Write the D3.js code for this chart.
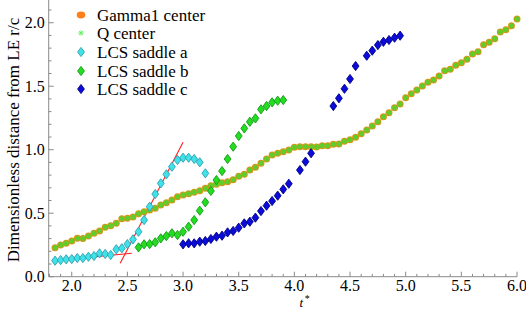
<!DOCTYPE html>
<meta charset="utf-8">
<style>
  body { margin: 0; background: #fff; }
  text { font-family: "Liberation Serif", "DejaVu Serif", serif; }
</style>
<svg width="526" height="310"></svg>
<script src="https://d3js.org/d3.v7.min.js"></script>
<script>
// Gamma1 center (orange) and Q center (green asterisk), t = 1.85 .. 6.00 step 0.05
var gammaT = [1.85,1.90,1.95,2.00,2.05,2.10,2.15,2.20,2.25,2.30,2.35,2.40,2.45,2.50,2.55,2.60,2.65,2.70,2.75,2.80,
  2.85,2.90,2.95,3.00,3.05,3.10,3.15,3.20,3.25,3.30,3.35,3.40,3.45,3.50,3.55,3.60,3.65,3.70,3.75,3.80,
  3.85,3.90,3.95,4.00,4.05,4.10,4.15,4.20,4.25,4.30,4.35,4.40,4.45,4.50,4.55,4.60,4.65,4.70,4.75,4.80,
  4.85,4.90,4.95,5.00,5.05,5.10,5.15,5.20,5.25,5.30,5.35,5.40,5.45,5.50,5.55,5.60,5.65,5.70,5.75,5.80,
  5.85,5.90,5.95,6.00];
var gammaV = [0.228,0.250,0.263,0.281,0.302,0.301,0.320,0.342,0.360,0.389,0.402,0.420,0.457,0.460,0.470,0.496,0.512,0.525,0.539,0.565,
  0.583,0.604,0.630,0.643,0.654,0.665,0.677,0.696,0.717,0.728,0.740,0.748,0.764,0.791,0.806,0.840,0.861,0.893,0.927,0.958,
  0.972,0.984,0.998,1.019,1.024,1.024,1.024,1.021,1.031,1.031,1.043,1.045,1.066,1.079,1.098,1.126,1.155,1.187,1.220,1.260,
  1.291,1.331,1.360,1.409,1.441,1.470,1.502,1.531,1.549,1.580,1.622,1.633,1.665,1.685,1.712,1.754,1.772,1.827,1.846,1.874,
  1.927,1.945,1.976,2.029];
var qT = gammaT;
var qV = [0.228,0.250,0.263,0.281,0.302,0.301,0.320,0.342,0.360,0.389,0.402,0.420,0.457,0.460,0.470,0.496,0.512,0.525,0.539,0.565,
  0.583,0.604,0.630,0.643,0.654,0.665,0.677,0.696,0.717,0.728,0.740,0.748,0.764,0.791,0.806,0.840,0.861,0.893,0.927,0.958,
  0.972,0.984,0.998,1.019,1.024,1.024,1.024,1.021,1.031,1.031,1.043,1.045,1.066,1.079,1.098,1.126,1.155,1.187,1.220,1.260,
  1.291,1.331,1.360,1.409,1.441,1.470,1.502,1.531,1.549,1.580,1.622,1.633,1.665,1.685,1.712,1.754,1.772,1.827,1.846,1.874,
  1.927,1.945,1.976,2.029];

var saddleAT = [1.85,1.90,1.95,2.00,2.05,2.10,2.15,2.20,2.25,2.30,2.35,2.40,2.45,2.50,2.55,2.60,2.65,2.70,2.75,2.80,
  2.85,2.90,2.95,3.00,3.05,3.10,3.15,3.20];
var saddleAV = [0.126,0.131,0.137,0.139,0.147,0.147,0.157,0.163,0.184,0.179,0.171,0.216,0.224,0.257,0.294,0.354,0.446,0.551,0.651,0.735,
  0.806,0.866,0.919,0.937,0.937,0.927,0.901,0.814];

var saddleBT = [2.60,2.65,2.70,2.75,2.80,2.85,2.90,2.95,3.00,3.05,3.10,3.15,3.20,3.25,3.30,3.35,3.40,3.45,3.50,3.55,
  3.60,3.65,3.70,3.75,3.80,3.85,3.90];
var saddleBV = [0.231,0.255,0.257,0.271,0.302,0.320,0.342,0.328,0.354,0.394,0.446,0.520,0.586,0.675,0.761,0.832,0.927,1.024,1.108,1.168,
  1.220,1.247,1.318,1.344,1.373,1.386,1.391];

var saddleCT = [3.00,3.05,3.10,3.15,3.20,3.25,3.30,3.35,3.40,3.45,3.50,3.55,3.60,3.65,3.70,3.75,3.80,3.85,3.90,3.95,
  4.05,4.10,4.15,4.35,4.40,4.45,4.50,4.55,4.65,4.70,4.75,4.80,4.85,4.90,4.95];
var saddleCV = [0.255,0.263,0.263,0.276,0.281,0.297,0.315,0.323,0.349,0.360,0.386,0.420,0.433,0.465,0.517,0.559,0.596,0.638,0.688,0.732,
  0.840,0.906,0.972,1.344,1.405,1.480,1.557,1.659,1.740,1.780,1.824,1.850,1.864,1.882,1.898];

// red fit lines: [t0, v0, t1, v1]
var fitLines = [[1.84, 0.126, 2.54, 0.185], [2.435, 0.105, 3.0, 1.058]];

var xTicks = [2.0, 2.5, 3.0, 3.5, 4.0, 4.5, 5.0, 5.5, 6.0];
var yTicks = [0.0, 0.5, 1.0, 1.5, 2.0];
var legendNames = ["Gamma1 center", "Q center", "LCS saddle a", "LCS saddle b", "LCS saddle c"];

var svg = d3.select("svg");
var x = d3.scaleLinear().domain([1.793, 6.0]).range([48.7, 517]);
var y = d3.scaleLinear().domain([0, 2.179]).range([276.7, 0]);

var axisColor = "#8a8a8a";

// x axis
var gx = svg.append("g").attr("transform", "translate(0," + y(0) + ")");
gx.append("line").attr("x1", x.range()[0]).attr("x2", x.range()[1]).attr("stroke", axisColor);
var xMinor = d3.range(18, 61).map(function(d) { return d / 10; });
gx.selectAll(".mt").data(xMinor).enter().append("line")
  .attr("x1", function(d) { return x(d); }).attr("x2", function(d) { return x(d); })
  .attr("y1", 0).attr("y2", function(d) { return Math.abs(d * 2 - Math.round(d * 2)) < 1e-6 ? -5 : -2.8; })
  .attr("stroke", axisColor);
gx.selectAll(".tl").data(xTicks).enter().append("text")
  .attr("x", function(d) { return x(d); }).attr("y", 14.8)
  .attr("text-anchor", "middle").attr("font-size", "16px")
  .text(function(d) { return d.toFixed(1); });

// y axis
var gy = svg.append("g").attr("transform", "translate(" + x.range()[0] + ",0)");
gy.append("line").attr("y1", y.range()[0]).attr("y2", 0).attr("stroke", axisColor);
var yMinor = d3.range(0, 22).map(function(d) { return d / 10; });
gy.selectAll(".mt").data(yMinor).enter().append("line")
  .attr("y1", function(d) { return y(d); }).attr("y2", function(d) { return y(d); })
  .attr("x1", 0).attr("x2", function(d) { return Math.abs(d * 2 - Math.round(d * 2)) < 1e-6 ? 5 : 2.8; })
  .attr("stroke", axisColor);
gy.selectAll(".tl").data(yTicks).enter().append("text")
  .attr("x", -4).attr("y", function(d) { return y(d) + 5.5; })
  .attr("text-anchor", "end").attr("font-size", "16px")
  .text(function(d) { return d.toFixed(1); });

// axis titles
svg.append("text")
  .attr("transform", "translate(19,140) rotate(-90)")
  .attr("text-anchor", "middle").attr("font-size", "17px")
  .text("Dimensionless distance from LE r/c");
svg.append("text").attr("x", 299.5).attr("y", 307).attr("font-size", "13px")
  .attr("font-style", "italic").text("t");
svg.append("text").attr("x", 304.8).attr("y", 302).attr("font-size", "10px").text("*");

function zip(ts, vs) { return ts.map(function(t, i) { return { t: t, v: vs[i] }; }); }

function diamond(sel, cx, cy, fill, stroke) {
  sel.append("path")
    .attr("d", "M" + cx + "," + (cy - 4.6) + "L" + (cx + 3.4) + "," + cy + "L" + cx + "," + (cy + 4.6) + "L" + (cx - 3.4) + "," + cy + "Z")
    .attr("fill", fill).attr("stroke", stroke).attr("stroke-width", 0.9);
}
function asterisk(sel, cx, cy, color, w) {
  var r = 2.7;
  [0, 45, 90, 135].forEach(function(a) {
    var dx = r * Math.sin(a * Math.PI / 180), dy = r * Math.cos(a * Math.PI / 180);
    sel.append("line").attr("x1", cx - dx).attr("y1", cy - dy).attr("x2", cx + dx).attr("y2", cy + dy)
      .attr("stroke", color).attr("stroke-width", w);
  });
}

var orange = "#e39018", qGreen = "#5ccf2c";
var cyanF = "#40e2e8", cyanS = "#2a9fb0";
var greenF = "#22dd22", greenS = "#139a13";
var blueF = "#0b0bdc", blueS = "#000080";

// red fit lines (under markers)
svg.append("g").selectAll("line").data(fitLines).enter().append("line")
  .attr("x1", function(d) { return x(d[0]); }).attr("y1", function(d) { return y(d[1]); })
  .attr("x2", function(d) { return x(d[2]); }).attr("y2", function(d) { return y(d[3]); })
  .attr("stroke", "#ff2020").attr("stroke-width", 1.1);

// Gamma1 center
svg.append("g").selectAll("circle").data(zip(gammaT, gammaV)).enter().append("circle")
  .attr("cx", function(d) { return x(d.t); }).attr("cy", function(d) { return y(d.v); })
  .attr("r", 3.5).attr("fill", orange);

// Q center
var gq = svg.append("g");
zip(qT, qV).forEach(function(d) { asterisk(gq, x(d.t), y(d.v), qGreen, 1.5); });

// saddles
var ga = svg.append("g");
zip(saddleAT, saddleAV).forEach(function(d) { diamond(ga, x(d.t), y(d.v), cyanF, cyanS); });
var gb = svg.append("g");
zip(saddleBT, saddleBV).forEach(function(d) { diamond(gb, x(d.t), y(d.v), greenF, greenS); });
var gc = svg.append("g");
zip(saddleCT, saddleCV).forEach(function(d) { diamond(gc, x(d.t), y(d.v), blueF, blueS); });

// legend
var lg = svg.append("g");
var rowY = [15, 33, 52, 71, 89];
lg.append("ellipse").attr("cx", 81).attr("cy", rowY[0]).attr("rx", 4.3).attr("ry", 3.4).attr("fill", "#ff7f1a");
asterisk(lg, 81, rowY[1], "#66f066", 1);
diamond(lg, 81, rowY[2], cyanF, cyanS);
diamond(lg, 81, rowY[3], greenF, greenS);
diamond(lg, 81, rowY[4], blueF, blueS);
lg.selectAll("text").data(legendNames).enter().append("text")
  .attr("x", 97).attr("y", function(d, i) { return rowY[i] + 5.5; })
  .attr("font-size", "17px").text(function(d) { return d; });
</script>
